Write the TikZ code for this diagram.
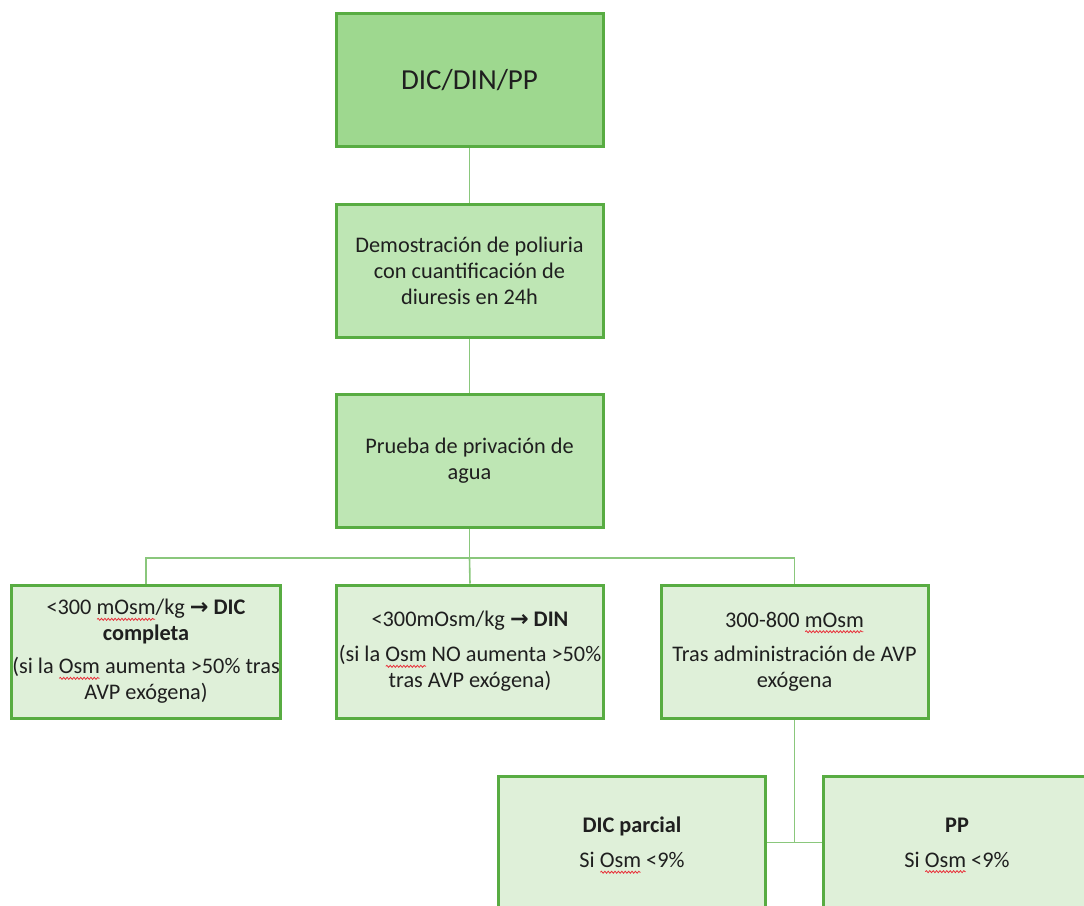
\documentclass[tikz,border=0pt]{standalone}
\usepackage{fontspec}
\setmainfont{Carlito}
\newfontfamily\symfont{DejaVu Sans}
\usetikzlibrary{backgrounds,decorations.pathmorphing}

\definecolor{bordergreen}{HTML}{58AC42}
\definecolor{wiregreen}{HTML}{8AC77C}
\definecolor{fillstrong}{HTML}{9ED88F}
\definecolor{fillmid}{HTML}{BEE6B4}
\definecolor{filllight}{HTML}{DFF0D9}
\definecolor{spellred}{HTML}{E8303A}

% red wavy underline, as a spell checker marks a word
\newsavebox\spellbox
\newlength\spellw
\newcommand\spellchk[1]{\sbox\spellbox{#1}\setlength\spellw{\wd\spellbox}%
  \leavevmode\tikz[overlay, x=1pt, y=1pt, baseline=0pt]
    \draw[spellred, line width=0.8pt, decorate,
      decoration={snake, amplitude=1pt, segment length=3.4pt}]
      (0.5,-4.5) -- (\spellw-0.5pt,-4.5);%
  \usebox\spellbox}
\newcommand\thenarrow{{\symfont\bfseries →}}

\tikzset{
  box/.style={draw=bordergreen, line width=3pt, minimum width=267pt,
    minimum height=133pt, align=center, inner sep=0pt, text=black!88,
    font=\fontsize{22.3}{26}\selectfont},
  topbox/.style={box, fill=fillstrong, font=\fontsize{29}{34}\selectfont},
  midbox/.style={box, fill=fillmid},
  lowbox/.style={box, fill=filllight},
  wire/.style={draw=wiregreen, line width=1.6pt}
}

\begin{document}
\begin{tikzpicture}[x=1pt, y=-1pt]
\useasboundingbox (0,0) rectangle (1084,905);
\clip (0,0) rectangle (1084,905);

\node[topbox] (dx)   at (469.5,80)    {DIC/DIN/PP};
\node[midbox] (poli) at (469.5,270.5) {Demostración de poliuria\\con cuantificación de\\diuresis en 24h};
\node[midbox] (priv) at (469.5,461)   {Prueba de privación de\\agua};

\node[lowbox, minimum width=269pt] (dic) at (146,651.5)
  {<300 \spellchk{mOsm}/kg \thenarrow{} \textbf{DIC}\\\textbf{completa}\\[7pt](si la \spellchk{Osm} aumenta >50\% tras\\AVP exógena)};
\node[lowbox] (din)  at (470,651.5)   {<300mOsm/kg \thenarrow{} \textbf{DIN}\\[9pt](si la \spellchk{Osm} NO aumenta >50\%\\tras AVP exógena)};
\node[lowbox] (avp)  at (794.5,651.5) {300-800 \spellchk{mOsm}\\[8pt]Tras administración de AVP\\exógena};

\node[lowbox] (parc) at (632,842.5)   {\textbf{DIC parcial}\\[9pt]Si \spellchk{Osm} <9\%};
\node[lowbox] (pp)   at (957,842.5)   {\textbf{PP}\\[9pt]Si \spellchk{Osm} <9\%};

\coordinate (bus) at (469.5,558);

\begin{pgfonlayer}{background}
  \draw[wire] (dx) -- (poli);
  \draw[wire] (poli) -- (priv);
  \draw[wire] (priv) -- (bus);
  \draw[wire] (dic.north) |- (bus) -| (avp.north);
  \draw[wire] (bus) -- (din.north);
  \draw[wire] (avp.south) -- (avp.south |- parc.east);
  \draw[wire] (parc.east) -- (pp.west);
\end{pgfonlayer}
\end{tikzpicture}
\end{document}
